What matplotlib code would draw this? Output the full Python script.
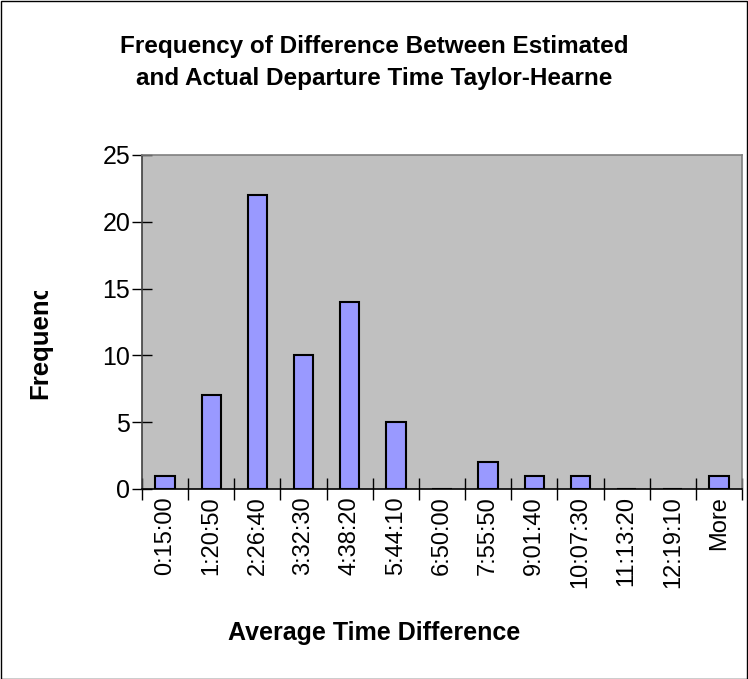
import matplotlib.pyplot as plt
from matplotlib.patches import Rectangle
from matplotlib.transforms import Bbox
import numpy as np

plt.rcParams['font.family'] = ['Liberation Sans', 'DejaVu Sans']

bins = ["0:15:00", "1:20:50", "2:26:40", "3:32:30", "4:38:20", "5:44:10",
        "6:50:00", "7:55:50", "9:01:40", "10:07:30", "11:13:20", "12:19:10", "More"]
frequency = [1, 7, 22, 10, 14, 5, 0, 2, 1, 1, 0, 0, 1]

W, H = 748, 679
fig = plt.figure(figsize=(W / 100, H / 100), dpi=100)
ax = fig.add_axes([142 / W, 1 - 489 / H, 600 / W, 334 / H])
ax.set_facecolor('#C0C0C0')

x = np.arange(len(bins))
ax.bar(x, frequency, width=0.42, color='#9999FF', edgecolor='black', linewidth=1.5, zorder=3)

ax.set_xlim(-0.5, len(bins) - 0.5)
ax.set_ylim(0, 25)
ax.set_yticks([0, 5, 10, 15, 20, 25])
ax.tick_params(axis='y', direction='inout', length=15, width=1, labelsize=18, pad=1)

ax.set_xticks(x)
ax.set_xticklabels(bins, rotation=90, fontsize=17)
ax.tick_params(axis='x', length=0, pad=5)
ax.set_xticks(np.arange(-0.5, len(bins)), minor=True)
ax.tick_params(axis='x', which='minor', direction='inout', length=16, width=1)

for s in ['top', 'right']:
    ax.spines[s].set_color('#808080')
ax.spines['left'].set_color('#404040')
ax.spines['bottom'].set_color('black')
for s in ax.spines.values():
    s.set_linewidth(1.2)

fig.text(0.5, 1 - 47 / H, "Frequency of Difference Between Estimated",
         ha='center', va='center', fontsize=17.5, fontweight='bold')
fig.text(0.5, 1 - 78 / H, "and Actual Departure Time Taylor-Hearne",
         ha='center', va='center', fontsize=17.5, fontweight='bold')
fig.text(0.5, 1 - 633 / H, "Average Time Difference",
         ha='center', va='center', fontsize=18, fontweight='bold')

# y label is cut off in the original, keep the same clipping
ylab = fig.text(40 / W, 1 - 399 / H, "Frequency", rotation=90,
                ha='center', va='bottom', fontsize=18.5, fontweight='bold')
ylab.set_clip_on(True)
ylab.set_clip_box(Bbox.from_extents(0, H - 400, W, H - 291))

fig.patches.append(Rectangle((0.5 / W, 0.5 / H), (W - 1.5) / W, (H - 1.5) / H,
                             transform=fig.transFigure, fill=False,
                             edgecolor='black', linewidth=1))

fig.savefig('out.png', dpi=100)
